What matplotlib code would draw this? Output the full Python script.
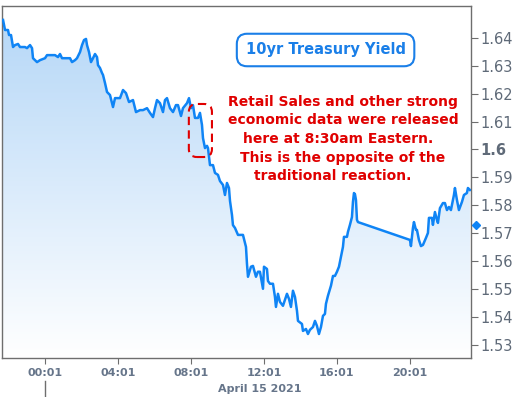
import numpy as np
import matplotlib.pyplot as plt
from matplotlib.patches import FancyBboxPatch, PathPatch
from matplotlib.path import Path
from matplotlib.colors import LinearSegmentedColormap

# minutes relative to 00:00 April 15 2021 (negative = April 14 evening)
minutes = [-137, -130.5, -120.7, -117.4, -110.8, -104.2, -97.6, -87.8, -81.2, -64.8,
           -58.2, -48.3, -41.7, -38.5, -25.3, -15.4, 1, 7.6, 17.4, 33.9,
           43.7, 50.3, 56.9, 83.2, 89.8, 99.6, 106.2, 116.1, 122.7, 129.2,
           135.8, 139.1, 145.7, 152.2, 158.8, 165.4, 172, 175.3, 181.8, 188.4,
           191.7, 198.3, 204.9, 214.7, 224.6, 231.2, 247.6, 257.5, 267.3, 277.2,
           290.3, 300.2, 313.4, 323.2, 336.4, 346.2, 356.1, 362.7, 369.3, 379.1,
           389, 395.6, 402.1, 412, 421.9, 431.7, 438.3, 448.2, 454.7, 467.9,
           474.5, 481, 487.6, 494.2, 504.1, 510.6, 517.2, 520.5, 527.1, 533.7,
           537, 543.5, 553.4, 560, 569.8, 576.4, 586.3, 592.8, 599.4, 606,
           609.3, 615.9, 619.1, 625.7, 635.6, 652, 661.9, 665.2, 668.5, 678.3,
           684.9, 694.8, 701.3, 707.9, 717.8, 721.1, 730.9, 734.2, 740.8, 750.7,
           757.2, 760.5, 767.1, 773.7, 783.5, 796.7, 803.3, 809.8, 816.4, 823,
           829.6, 832.9, 846, 849.3, 859.2, 865.7, 872.3, 882.2, 888.8, 895.3,
           901.9, 908.5, 915.1, 921.6, 924.9, 931.5, 941.4, 948, 954.5, 961.1,
           967.7, 974.2, 980.8, 984.1, 987.4, 994, 997.3, 1003.8, 1010.4, 1013.7,
           1017, 1020.3, 1023.6, 1026.9, 1030.1, 1201.1, 1204.4, 1211, 1214.3, 1220.8,
           1224.1, 1230.7, 1237.3, 1243.9, 1253.7, 1260.3, 1263.6, 1273.5, 1276.7, 1283.3,
           1289.9, 1293.2, 1299.8, 1309.6, 1316.2, 1322.8, 1329.4, 1335.9, 1345.8, 1349.1,
           1355.7, 1362.2, 1372.1, 1378.7, 1388.5, 1391.8, 1398.4]
yields = [1.6464, 1.6428, 1.6428, 1.6410, 1.6410, 1.6367, 1.6374, 1.6378, 1.6367, 1.6367,
          1.6363, 1.6374, 1.6363, 1.6327, 1.6313, 1.6320, 1.6327, 1.6338, 1.6338, 1.6338,
          1.6331, 1.6342, 1.6327, 1.6327, 1.6313, 1.6320, 1.6327, 1.6349, 1.6374, 1.6392,
          1.6396, 1.6374, 1.6349, 1.6313, 1.6327, 1.6342, 1.6331, 1.6302, 1.6292, 1.6274,
          1.6267, 1.6238, 1.6206, 1.6195, 1.6152, 1.6184, 1.6184, 1.6213, 1.6202, 1.6170,
          1.6177, 1.6134, 1.6141, 1.6141, 1.6148, 1.6131, 1.6116, 1.6148, 1.6177, 1.6166,
          1.6134, 1.6177, 1.6184, 1.6148, 1.6134, 1.6159, 1.6159, 1.6120, 1.6148, 1.6166,
          1.6184, 1.6148, 1.6159, 1.6113, 1.6113, 1.6131, 1.6088, 1.6041, 1.6005, 1.6013,
          1.6005, 1.5944, 1.5944, 1.5916, 1.5909, 1.5887, 1.5873, 1.5837, 1.5880, 1.5862,
          1.5816, 1.5765, 1.5729, 1.5719, 1.5694, 1.5694, 1.5651, 1.5590, 1.5544, 1.5580,
          1.5583, 1.5544, 1.5562, 1.5562, 1.5501, 1.5580, 1.5572, 1.5529, 1.5519, 1.5519,
          1.5472, 1.5436, 1.5483, 1.5454, 1.5440, 1.5483, 1.5465, 1.5436, 1.5494, 1.5472,
          1.5422, 1.5386, 1.5375, 1.5350, 1.5357, 1.5339, 1.5354, 1.5364, 1.5386, 1.5368,
          1.5339, 1.5364, 1.5404, 1.5411, 1.5447, 1.5476, 1.5512, 1.5547, 1.5547, 1.5562,
          1.5580, 1.5615, 1.5651, 1.5687, 1.5687, 1.5687, 1.5705, 1.5730, 1.5758, 1.5812,
          1.5844, 1.5840, 1.5819, 1.5748, 1.5740, 1.5676, 1.5654, 1.5719, 1.5740, 1.5712,
          1.5712, 1.5676, 1.5654, 1.5658, 1.5683, 1.5701, 1.5755, 1.5755, 1.5730, 1.5776,
          1.5748, 1.5737, 1.5790, 1.5808, 1.5808, 1.5783, 1.5794, 1.5783, 1.5837, 1.5862,
          1.5819, 1.5783, 1.5812, 1.5837, 1.5844, 1.5862, 1.5855]

marker_yield = 1.5730
tick_minutes = [1, 241, 481, 721, 961, 1201]
tick_labels = ['00:01', '04:01', '08:01', '12:01', '16:01', '20:01']
y_ticks = [1.53, 1.54, 1.55, 1.56, 1.57, 1.58, 1.59, 1.60, 1.61, 1.62, 1.63, 1.64]
# release window highlighted (8:30am data)
box_t0, box_t1 = 474, 550
box_y0, box_y1 = 1.5973, 1.6163

x = np.array(minutes)
y = np.array(yields)
xmin, xmax = -140.4, 1401.7
ymin, ymax = 1.5253, 1.6514

fig = plt.figure(figsize=(5.17, 3.97), dpi=100)
ax = fig.add_axes([0.0039, 0.0982, 0.907, 0.8867])
ax.set_xlim(xmin, xmax)
ax.set_ylim(ymin, ymax)

# gradient fill under the line
grad = np.linspace(1, 0, 256).reshape(-1, 1)
cmap = LinearSegmentedColormap.from_list('fade', ['#ffffff', '#b3d6f7'])
img = ax.imshow(grad, cmap=cmap, aspect='auto', extent=[xmin, xmax, ymin, ymax],
                origin='upper', zorder=1)
verts = [(x[0], ymin)] + list(zip(x, y)) + [(x[-1], ymin), (x[0], ymin)]
clip = PathPatch(Path(verts), transform=ax.transData, facecolor='none', edgecolor='none')
ax.add_patch(clip)
img.set_clip_path(clip)

ax.plot(x, y, color='#0f84f5', lw=1.8, zorder=3)

ax.plot([xmax + 16], [marker_yield], marker='D', ms=4.5, color='#0f84f5',
        clip_on=False, zorder=5)

for s in ax.spines.values():
    s.set_color('#6e6e6e')
    s.set_linewidth(1)

ax.yaxis.tick_right()
ax.set_yticks(y_ticks)
ax.set_yticklabels([f'{v:.2f}' if abs(v - 1.6) > 1e-9 else '1.6' for v in y_ticks])
for lab in ax.get_yticklabels():
    if lab.get_text() == '1.6':
        lab.set_fontweight('bold')
ax.tick_params(axis='y', colors='#6e6e6e', labelcolor='#5f6a78', labelsize=10.5,
               length=5, pad=2)
ax.set_xticks(tick_minutes)
ax.set_xticklabels(tick_labels, fontweight='bold')
ax.tick_params(axis='x', colors='#6e6e6e', labelcolor='#66758a', labelsize=8,
               length=4, pad=3)

ax.text(0.55, -0.088, 'April 15 2021', transform=ax.transAxes, ha='center', va='center',
        fontsize=8, fontweight='bold', color='#66758a')
ax.plot([0, 0], [-0.066, -0.11], transform=ax.get_xaxis_transform(), color='#6e6e6e',
        lw=1, clip_on=False)

ax.text(0.69, 0.875, '10yr Treasury Yield', transform=ax.transAxes, ha='center',
        va='center', fontsize=10.5, fontweight='bold', color='#1a7fe8',
        bbox=dict(boxstyle='round,pad=0.6,rounding_size=0.7', fc='white',
                  ec='#1a7fe8', lw=1.5), zorder=6)

note = ('Retail Sales and other strong\neconomic data were released\n'
        'here at 8:30am Eastern.  \nThis is the opposite of the\ntraditional reaction.    ')
ax.text(0.727, 0.622, note, transform=ax.transAxes, ha='center', va='center',
        fontsize=10, fontweight='bold', color='#e00000', linespacing=1.42, zorder=6)

# dashed rounded box around the release, built in display space
fig.canvas.draw()
(px0, py0) = ax.transData.transform((box_t0, box_y0))
(px1, py1) = ax.transData.transform((box_t1, box_y1))
rect = FancyBboxPatch((px0, py0), px1 - px0, py1 - py0,
                      boxstyle='round,pad=0,rounding_size=8', transform=None,
                      fill=False, ec='#e00000', lw=1.5, ls=(0, (4, 2.5)), zorder=6)
fig.patches.append(rect)
rect.set_figure(fig)

fig.savefig('out.png', dpi=100)
